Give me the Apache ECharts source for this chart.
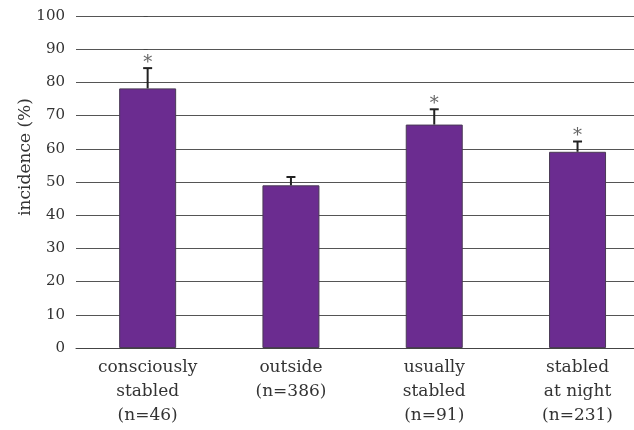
<!DOCTYPE html>
<html>
<head>
<meta charset="utf-8">
<script src="https://cdn.jsdelivr.net/npm/echarts@6/dist/echarts.min.js"></script>
<style>
  html, body { margin: 0; padding: 0; background: #fff; }
  #chart { width: 634px; height: 430px; }
</style>
</head>
<body>
<div id="chart"></div>
<script>
// Incidence by housing group, with upper error bars and significance marks
const categories = [
  'consciously\nstabled\n(n=46)',
  'outside\n(n=386)',
  'usually\nstabled\n(n=91)',
  'stabled\nat night\n(n=231)'
];
const incidence = [78.2, 49.0, 67.3, 59.1];
const errorUpper = [84.3, 51.5, 71.9, 62.2];
const significant = [true, false, true, true];
const yTicks = [0, 10, 20, 30, 40, 50, 60, 70, 80, 90, 100];

const FONT = '"DejaVu Serif", "Liberation Serif", serif';
const chart = echarts.init(document.getElementById('chart'), null, { renderer: 'canvas' });

// Category slots sit on a numeric x axis so the last slot may run past the right edge
const positions = categories.map((c, i) => i);
const barData = incidence.map((v, i) => [positions[i], v]);
const errData = incidence.map((v, i) => [positions[i], v, errorUpper[i], significant[i] ? 1 : 0]);

chart.setOption({
  animation: false,
  backgroundColor: '#fff',
  grid: { left: 76, top: 16, right: 0, bottom: 82, containLabel: false },
  xAxis: {
    type: 'value',
    min: -0.5,
    max: 3.394,
    axisTick: { show: false },
    splitLine: { show: false },
    axisLine: { show: true, onZero: false, lineStyle: { color: '#444', width: 1 } },
    axisLabel: {
      customValues: positions,
      formatter: function (v) { return categories[Math.round(v)] || ''; },
      color: '#333', fontFamily: FONT, fontSize: 17, lineHeight: 24, margin: 8
    }
  },
  yAxis: {
    type: 'value',
    min: yTicks[0], max: yTicks[yTicks.length - 1], interval: 10,
    axisLine: { show: false },
    axisTick: { show: true, length: 4, lineStyle: { color: '#444' } },
    axisLabel: { color: '#333', fontFamily: FONT, fontSize: 15, margin: 11 },
    splitLine: { show: true, lineStyle: { color: '#555', width: 1 } }
  },
  graphic: [{
    type: 'text',
    x: 26, y: 157,
    rotation: Math.PI / 2,
    style: {
      text: 'incidence (%)', align: 'center', verticalAlign: 'middle',
      fill: '#333', font: '17px ' + FONT
    }
  }],
  series: [
    {
      type: 'bar',
      data: barData,
      barWidth: 57,
      itemStyle: { color: '#6b2c90', borderColor: '#4a3a55', borderWidth: 1 },
      z: 2
    },
    {
      type: 'custom',
      data: errData,
      z: 3,
      renderItem: function (params, api) {
        const x = api.value(0);
        const base = api.coord([x, api.value(1)]);
        const top = api.coord([x, api.value(2)]);
        const half = 4.5;
        const children = [
          { type: 'line', shape: { x1: top[0], y1: base[1], x2: top[0], y2: top[1] },
            style: { stroke: '#222', lineWidth: 2 } },
          { type: 'line', shape: { x1: top[0] - half, y1: top[1], x2: top[0] + half, y2: top[1] },
            style: { stroke: '#222', lineWidth: 2 } }
        ];
        if (api.value(3)) {
          children.push({
            type: 'text',
            style: {
              text: '*', x: top[0], y: top[1] - 14,
              align: 'center', verticalAlign: 'top',
              fill: '#666', font: '18px ' + FONT
            }
          });
        }
        return { type: 'group', children: children };
      }
    }
  ]
});
</script>
</body>
</html>
